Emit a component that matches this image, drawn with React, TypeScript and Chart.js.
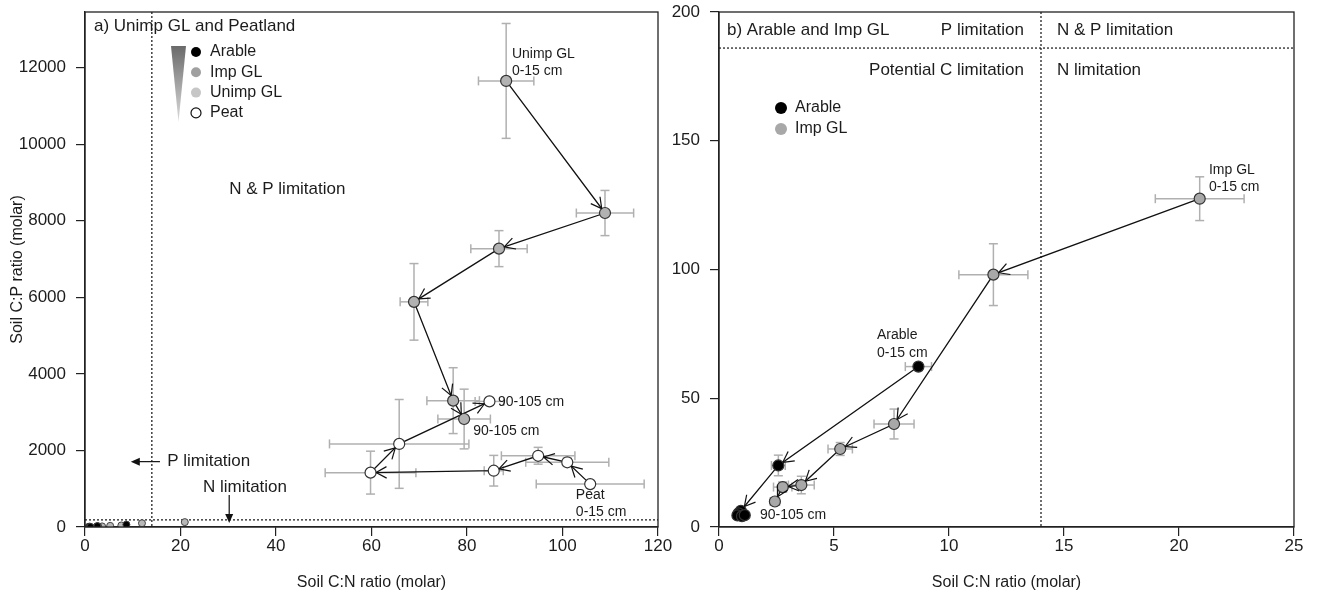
import React, { useEffect, useRef } from "react";
import { Chart, registerables } from "chart.js";

Chart.register(...registerables);

const FONT = '"Liberation Sans", Arial, Helvetica, sans-serif';
const TEXT = "#1c1c1c";

// ---------- Panel a: Unimp GL and Peatland (C:N vs C:P, molar) ----------
const unimpCN = [88.2, 108.9, 86.7, 68.9, 77.1, 79.4];
const unimpCP = [11650, 8200, 7270, 5880, 3300, 2820];
const unimpCNErr = [5.8, 6.0, 5.9, 2.9, 5.5, 5.5];
const unimpCPErr = [1500, 590, 470, 1000, 860, 780];

const peatCN = [105.8, 101.0, 94.9, 85.6, 59.8, 65.8, 84.7];
const peatCP = [1120, 1690, 1860, 1470, 1420, 2170, 3280];
const peatCNErr = [11.3, 8.7, 7.7, 2.0, 9.5, 14.6, 3.0];
const peatCPErr = [60, 110, 220, 400, 560, 1160, 90];

// ---------- Panel b: Arable and Imp GL ----------
const impCN = [20.9, 11.93, 7.61, 5.27, 3.58, 2.77, 2.43];
const impCP = [127.5, 98.0, 40.0, 30.3, 16.3, 15.5, 9.9];
const impCNErr = [1.93, 1.5, 0.87, 0.53, 0.56, 0.4, 0.2];
const impCPErr = [8.5, 12.0, 5.8, 2.5, 3.4, 2.0, 1.0];

const arableCN = [8.67, 2.58, 0.95, 0.85, 0.8, 1.0, 1.12];
const arableCP = [62.3, 23.9, 6.3, 5.3, 4.5, 4.2, 4.6];
const arableCNErr = [0.57, 0.3, 0.1, 0.1, 0.08, 0.1, 0.1];
const arableCPErr = [1.5, 4.0, 0.8, 0.6, 0.5, 0.5, 0.6];

// ---------- Axes ----------
const aXTicks = [0, 20, 40, 60, 80, 100, 120];
const aYTicks = [0, 2000, 4000, 6000, 8000, 10000, 12000];
const aXMax = 120;
const aYMax = 13450;
const bXTicks = [0, 5, 10, 15, 20, 25];
const bYTicks = [0, 50, 100, 150, 200];
const bXMax = 25;
const bYMax = 200;

// thresholds (dotted lines)
const cnThreshold = 14;
const cpThreshold = 186;

// ---------- Annotations (data coordinates) ----------
const aLabels = [
  { text: "Unimp GL", x: 89.4, y: 12340 },
  { text: "0-15 cm", x: 89.4, y: 11895 },
  { text: "90-105 cm", x: 86.5, y: 3268 },
  { text: "90-105 cm", x: 81.3, y: 2510 },
  { text: "Peat", x: 102.8, y: 837 },
  { text: "0-15 cm", x: 102.8, y: 392 },
];
const bLabels = [
  { text: "Imp GL", x: 21.3, y: 138.6 },
  { text: "0-15 cm", x: 21.3, y: 132.0 },
  { text: "Arable", x: 6.87, y: 74.6 },
  { text: "0-15 cm", x: 6.87, y: 67.6 },
  { text: "90-105 cm", x: 1.78, y: 4.66 },
];

type Scale = { getPixelForValue: (v: number) => number };

function line(ctx: CanvasRenderingContext2D, x0: number, y0: number, x1: number, y1: number) {
  ctx.beginPath();
  ctx.moveTo(x0, y0);
  ctx.lineTo(x1, y1);
  ctx.stroke();
}

function text(
  ctx: CanvasRenderingContext2D,
  s: string,
  x: number,
  y: number,
  size: number,
  align: CanvasTextAlign = "left"
) {
  ctx.font = `${size}px ${FONT}`;
  ctx.fillStyle = TEXT;
  ctx.textAlign = align;
  ctx.textBaseline = "middle";
  ctx.fillText(s, x, y);
}

function errorBars(
  ctx: CanvasRenderingContext2D,
  xs: number[],
  ys: number[],
  xe: number[],
  ye: number[],
  sx: Scale,
  sy: Scale
) {
  ctx.save();
  ctx.strokeStyle = "#b0b0b0";
  ctx.lineWidth = 1.5;
  const cap = 4.5;
  for (let i = 0; i < xs.length; i++) {
    const px = sx.getPixelForValue(xs[i]);
    const py = sy.getPixelForValue(ys[i]);
    const xl = sx.getPixelForValue(xs[i] - xe[i]);
    const xr = sx.getPixelForValue(xs[i] + xe[i]);
    const yt = sy.getPixelForValue(ys[i] + ye[i]);
    const yb = sy.getPixelForValue(ys[i] - ye[i]);
    if (xr - xl > 3) {
      line(ctx, xl, py, xr, py);
      line(ctx, xl, py - cap, xl, py + cap);
      line(ctx, xr, py - cap, xr, py + cap);
    }
    if (yb - yt > 3) {
      line(ctx, px, yt, px, yb);
      line(ctx, px - cap, yt, px + cap, yt);
      line(ctx, px - cap, yb, px + cap, yb);
    }
  }
  ctx.restore();
}

function arrows(
  ctx: CanvasRenderingContext2D,
  xs: number[],
  ys: number[],
  sx: Scale,
  sy: Scale,
  r: number
) {
  ctx.save();
  ctx.strokeStyle = "#111";
  ctx.lineWidth = 1.2;
  const L = 12;
  const ang = 0.5;
  for (let i = 1; i < xs.length; i++) {
    const x0 = sx.getPixelForValue(xs[i - 1]);
    const y0 = sy.getPixelForValue(ys[i - 1]);
    const x1 = sx.getPixelForValue(xs[i]);
    const y1 = sy.getPixelForValue(ys[i]);
    const dx = x1 - x0;
    const dy = y1 - y0;
    const d = Math.hypot(dx, dy);
    if (d < 15) continue;
    const ux = dx / d;
    const uy = dy / d;
    const tx = x1 - ux * r;
    const ty = y1 - uy * r;
    for (const s of [-1, 1]) {
      const c = Math.cos(s * ang);
      const sn = Math.sin(s * ang);
      const bx = -ux * c + uy * sn;
      const by = -ux * sn - uy * c;
      line(ctx, tx, ty, tx + bx * L, ty + by * L);
    }
  }
  ctx.restore();
}

function dottedLines(chart: any) {
  const { ctx, chartArea: a, scales } = chart;
  ctx.save();
  ctx.strokeStyle = "#111";
  ctx.lineWidth = 1.2;
  ctx.setLineDash([2, 2]);
  const vx = scales.x.getPixelForValue(cnThreshold);
  line(ctx, vx, a.top, vx, a.bottom);
  const hy = scales.y.getPixelForValue(cpThreshold);
  line(ctx, a.left, hy, a.right, hy);
  ctx.restore();
}

function box(chart: any) {
  const { ctx, chartArea: a } = chart;
  ctx.save();
  ctx.strokeStyle = "#222";
  ctx.lineWidth = 1.3;
  ctx.strokeRect(a.left, a.top, a.right - a.left, a.bottom - a.top);
  ctx.restore();
}

function dot(ctx: CanvasRenderingContext2D, x: number, y: number, r: number, fill: string, stroke?: string) {
  ctx.beginPath();
  ctx.arc(x, y, r, 0, Math.PI * 2);
  ctx.fillStyle = fill;
  ctx.fill();
  if (stroke) {
    ctx.strokeStyle = stroke;
    ctx.lineWidth = 1.2;
    ctx.stroke();
  }
}

const panelAPlugin = {
  id: "panelA",
  beforeDatasetsDraw(chart: any) {
    const { ctx, scales } = chart;
    dottedLines(chart);
    errorBars(ctx, unimpCN, unimpCP, unimpCNErr, unimpCPErr, scales.x, scales.y);
    errorBars(ctx, peatCN, peatCP, peatCNErr, peatCPErr, scales.x, scales.y);
  },
  afterDatasetsDraw(chart: any) {
    const { ctx, chartArea: a, scales } = chart;
    const sx = scales.x;
    const sy = scales.y;
    arrows(ctx, unimpCN, unimpCP, sx, sy, 5.5);
    arrows(ctx, peatCN, peatCP, sx, sy, 5.5);
    box(chart);
    ctx.save();
    text(ctx, "a) Unimp GL and Peatland", a.left + 9, a.top + 14, 17);
    text(ctx, "N & P limitation", sx.getPixelForValue(30.2), sy.getPixelForValue(8810), 17);
    text(ctx, "P limitation", sx.getPixelForValue(17.2), sy.getPixelForValue(1707), 17);
    text(ctx, "N limitation", sx.getPixelForValue(24.7), sy.getPixelForValue(1046), 17);
    for (const l of aLabels) text(ctx, l.text, sx.getPixelForValue(l.x), sy.getPixelForValue(l.y), 14);

    // P limitation arrow (pointing left)
    ctx.strokeStyle = "#111";
    ctx.fillStyle = "#111";
    ctx.lineWidth = 1.2;
    const py = sy.getPixelForValue(1707);
    const pFrom = sx.getPixelForValue(15.7);
    const pTo = sx.getPixelForValue(9.6);
    line(ctx, pFrom, py, pTo + 8, py);
    ctx.beginPath();
    ctx.moveTo(pTo, py);
    ctx.lineTo(pTo + 9, py - 4);
    ctx.lineTo(pTo + 9, py + 4);
    ctx.closePath();
    ctx.fill();
    // N limitation arrow (pointing down)
    const nx = sx.getPixelForValue(30.2);
    const nFrom = sy.getPixelForValue(837);
    const nTo = sy.getPixelForValue(105);
    line(ctx, nx, nFrom, nx, nTo - 8);
    ctx.beginPath();
    ctx.moveTo(nx, nTo);
    ctx.lineTo(nx - 4, nTo - 9);
    ctx.lineTo(nx + 4, nTo - 9);
    ctx.closePath();
    ctx.fill();

    // legend with depth wedge
    const wl = a.left + 86;
    const wr = a.left + 101;
    const wt = a.top + 34;
    const wb = a.top + 110;
    const grad = ctx.createLinearGradient(0, wt, 0, wb);
    grad.addColorStop(0, "#6a6a6a");
    grad.addColorStop(1, "#dcdcdc");
    ctx.beginPath();
    ctx.moveTo(wl, wt);
    ctx.lineTo(wr, wt);
    ctx.lineTo((wl + wr) / 2, wb);
    ctx.closePath();
    ctx.fillStyle = grad;
    ctx.fill();
    const lx = a.left + 111;
    const items = [
      { label: "Arable", fill: "#000000", stroke: undefined as string | undefined },
      { label: "Imp GL", fill: "#a0a0a0", stroke: undefined },
      { label: "Unimp GL", fill: "#c6c6c6", stroke: undefined },
      { label: "Peat", fill: "#ffffff", stroke: "#111" },
    ];
    items.forEach((it, i) => {
      const y = a.top + 40 + i * 20.3;
      dot(ctx, lx, y, 5, it.fill, it.stroke);
      text(ctx, it.label, lx + 14, y, 16);
    });
    ctx.restore();
  },
};

const panelBPlugin = {
  id: "panelB",
  beforeDatasetsDraw(chart: any) {
    const { ctx, scales } = chart;
    dottedLines(chart);
    errorBars(ctx, impCN, impCP, impCNErr, impCPErr, scales.x, scales.y);
    errorBars(ctx, arableCN, arableCP, arableCNErr, arableCPErr, scales.x, scales.y);
  },
  afterDatasetsDraw(chart: any) {
    const { ctx, chartArea: a, scales } = chart;
    const sx = scales.x;
    const sy = scales.y;
    arrows(ctx, impCN, impCP, sx, sy, 5.5);
    arrows(ctx, arableCN, arableCP, sx, sy, 5.5);
    box(chart);
    ctx.save();
    const vx = sx.getPixelForValue(cnThreshold);
    text(ctx, "b) Arable and Imp GL", a.left + 8, a.top + 18, 17);
    text(ctx, "P limitation", vx - 17, a.top + 18, 17, "right");
    text(ctx, "N & P limitation", vx + 16, a.top + 18, 17);
    text(ctx, "Potential C limitation", vx - 17, a.top + 58, 17, "right");
    text(ctx, "N limitation", vx + 16, a.top + 58, 17);
    for (const l of bLabels) text(ctx, l.text, sx.getPixelForValue(l.x), sy.getPixelForValue(l.y), 14);
    const lx = a.left + 62;
    dot(ctx, lx, a.top + 96, 6, "#000000");
    text(ctx, "Arable", lx + 14, a.top + 96, 16);
    dot(ctx, lx, a.top + 117, 6, "#a8a8a8");
    text(ctx, "Imp GL", lx + 14, a.top + 117, 16);
    ctx.restore();
  },
};

function pts(xs: number[], ys: number[]) {
  return xs.map((x, i) => ({ x, y: ys[i] }));
}

function chainDataset(label: string, xs: number[], ys: number[], fill: string, r: number) {
  return {
    label,
    data: pts(xs, ys),
    showLine: true,
    borderColor: "#111",
    borderWidth: 1.3,
    pointRadius: r,
    pointBackgroundColor: fill,
    pointBorderColor: "#333",
    pointBorderWidth: 1.2,
  };
}

function smallDataset(label: string, xs: number[], ys: number[], fill: string) {
  return {
    label,
    data: pts(xs, ys),
    showLine: false,
    pointRadius: 3.5,
    pointBackgroundColor: fill,
    pointBorderColor: "#444",
    pointBorderWidth: 1,
  };
}

function xAxis(max: number, ticks: number[]) {
  return {
    type: "linear",
    position: "bottom",
    min: 0,
    max,
    afterBuildTicks: (s: any) => {
      s.ticks = ticks.map((v) => ({ value: v }));
    },
    afterFit: (s: any) => {
      s.height = 82;
      s.paddingLeft = 0;
      s.paddingRight = 0;
    },
    ticks: {
      font: { family: FONT, size: 17 },
      color: TEXT,
      padding: 0,
      maxRotation: 0,
      autoSkip: false,
      callback: (v: any) => String(v),
    },
    grid: {
      drawOnChartArea: false,
      drawTicks: true,
      tickLength: 9,
      color: "#222",
      tickColor: "#222",
      lineWidth: 1.2,
      tickWidth: 1.2,
    },
    border: { display: true, color: "#222", width: 1.3 },
    title: {
      display: true,
      text: "Soil C:N ratio (molar)",
      font: { family: FONT, size: 16 },
      color: TEXT,
      padding: { top: 0, bottom: 17 },
    },
  };
}

function yAxis(max: number, ticks: number[], width: number, title: string | null) {
  return {
    type: "linear",
    position: "left",
    min: 0,
    max,
    afterBuildTicks: (s: any) => {
      s.ticks = ticks.map((v) => ({ value: v }));
    },
    afterFit: (s: any) => {
      s.width = width;
      s.paddingTop = 0;
      s.paddingBottom = 0;
    },
    ticks: {
      font: { family: FONT, size: 17 },
      color: TEXT,
      padding: 10,
      autoSkip: false,
      callback: (v: any) => String(v),
    },
    grid: {
      drawOnChartArea: false,
      drawTicks: true,
      tickLength: 9,
      color: "#222",
      tickColor: "#222",
      lineWidth: 1.2,
      tickWidth: 1.2,
    },
    border: { display: true, color: "#222", width: 1.3 },
    title: {
      display: !!title,
      text: title || "",
      font: { family: FONT, size: 16 },
      color: TEXT,
      padding: { top: 8, bottom: 0 },
    },
  };
}

function baseOptions(rightPad: number, xs: any, ys: any) {
  return {
    responsive: false,
    animation: false,
    devicePixelRatio: 1,
    events: [],
    layout: { padding: { top: 12, right: rightPad, left: 0, bottom: 0 } },
    plugins: { legend: { display: false }, tooltip: { enabled: false } },
    scales: { x: xs, y: ys },
  };
}

function buildA(canvas: HTMLCanvasElement) {
  return new Chart(canvas, {
    type: "scatter",
    data: {
      datasets: [
        chainDataset("Unimp GL", unimpCN, unimpCP, "#b2b2b2", 5.5),
        chainDataset("Peat", peatCN, peatCP, "#ffffff", 5.5),
        smallDataset("Arable", arableCN, arableCP, "#000000"),
        smallDataset("Imp GL", impCN, impCP, "#b8b8b8"),
      ] as any,
    },
    options: baseOptions(42, xAxis(aXMax, aXTicks), yAxis(aYMax, aYTicks, 85, "Soil C:P ratio (molar)")) as any,
    plugins: [panelAPlugin as any],
  });
}

function buildB(canvas: HTMLCanvasElement) {
  return new Chart(canvas, {
    type: "scatter",
    data: {
      datasets: [
        chainDataset("Arable", arableCN, arableCP, "#000000", 5.5),
        chainDataset("Imp GL", impCN, impCP, "#a8a8a8", 5.5),
      ] as any,
    },
    options: baseOptions(24, xAxis(bXMax, bXTicks), yAxis(bYMax, bYTicks, 79, null)) as any,
    plugins: [panelBPlugin as any],
  });
}

function ChartCanvas({ left, width, build }: { left: number; width: number; build: (c: HTMLCanvasElement) => Chart }) {
  const ref = useRef<HTMLCanvasElement>(null);
  useEffect(() => {
    const chart = build(ref.current as HTMLCanvasElement);
    return () => chart.destroy();
  }, [build]);
  return (
    <canvas
      ref={ref}
      width={width}
      height={609}
      style={{ position: "absolute", left, top: 0, width, height: 609 }}
    />
  );
}

export default function App() {
  return (
    <div style={{ position: "absolute", left: 0, top: 0, width: 1318, height: 609, background: "#ffffff", overflow: "hidden" }}>
      <ChartCanvas left={0} width={700} build={buildA} />
      <ChartCanvas left={640} width={678} build={buildB} />
    </div>
  );
}
